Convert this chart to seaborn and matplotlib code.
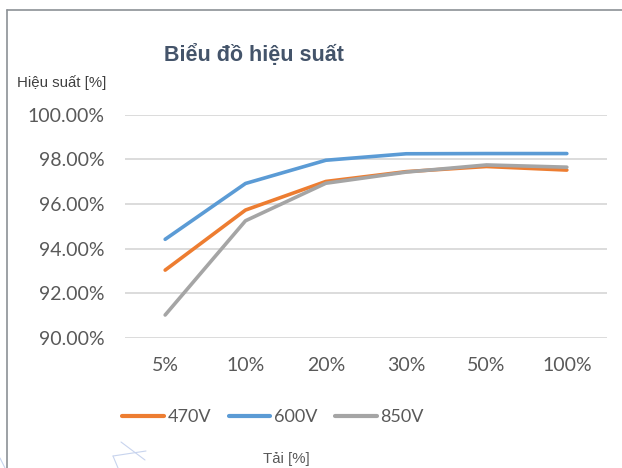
import matplotlib
matplotlib.use("Agg")
import matplotlib.pyplot as plt
import seaborn as sns
import pandas as pd
from matplotlib.lines import Line2D

categories = ["5%", "10%", "20%", "30%", "50%", "100%"]
eff_470 = [93.04, 95.73, 97.01, 97.45, 97.68, 97.52]
eff_600 = [94.42, 96.92, 97.96, 98.25, 98.26, 98.26]
eff_850 = [91.03, 95.25, 96.93, 97.43, 97.75, 97.65]
series = ["470V", "600V", "850V"]
yticks = [90, 92, 94, 96, 98, 100]

rows = []
for name, vals in zip(series, [eff_470, eff_600, eff_850]):
    for i, (c, v) in enumerate(zip(categories, vals)):
        rows.append({"pos": i, "load": c, "eff": v, "series": name})
df = pd.DataFrame(rows)

sns.set_style("white")
plt.rcParams["font.family"] = ["Lato", "DejaVu Sans"]

W, H = 622, 468
fig = plt.figure(figsize=(W / 100, H / 100), dpi=100)
ax = fig.add_axes([125 / W, 1 - 338 / H, (607 - 125) / W, (338 - 114.7) / H])

palette = {"470V": "#ED7D31", "600V": "#5B9BD5", "850V": "#A5A5A5"}
sns.lineplot(data=df, x="pos", y="eff", hue="series", palette=palette,
             linewidth=2.6, ax=ax, legend=False, sort=False)

ax.set_xlim(-0.5, len(categories) - 0.5)
ax.set_ylim(90, 100)
ax.set_xticks(range(len(categories)))
ax.set_xticklabels(categories)
ax.set_yticks(yticks)
ax.set_yticklabels([f"{v:.2f}%" for v in yticks])
ax.grid(axis="y", color="#D9D9D9", linewidth=1.3)
ax.grid(axis="x", visible=False)
ax.set_axisbelow(True)
for s in ax.spines.values():
    s.set_visible(False)
ax.tick_params(axis="both", length=0, labelsize=14, labelcolor="#595959")
ax.tick_params(axis="x", pad=14)
ax.tick_params(axis="y", pad=15)
ax.set_xlabel("")
ax.set_ylabel("")

# Title and axis titles
fig.text(254 / W, 1 - 55 / H, "Biểu đồ hiệu suất", ha="center", va="center",
         fontsize=15.5, fontweight="bold", color="#44546A",
         family=["Liberation Sans", "DejaVu Sans"])
fig.text(17 / W, 1 - 83 / H, "Hiệu suất [%]", ha="left", va="center",
         fontsize=10.8, color="#404040",
         family=["Liberation Sans Narrow", "Liberation Sans", "DejaVu Sans"])
fig.text(286 / W, 1 - 459 / H, "Tải [%]", ha="center", va="center",
         fontsize=10.8, color="#595959",
         family=["Liberation Sans Narrow", "Liberation Sans", "DejaVu Sans"])

handles = [Line2D([], [], color=palette[s], linewidth=3) for s in series]
fig.legend(handles, series, loc="center", bbox_to_anchor=(273 / W, 1 - 417 / H),
           ncol=3, frameon=False, fontsize=13, handlelength=2.3,
           handletextpad=0.2, columnspacing=1.0, labelcolor="#595959")

# chart frame (top and left borders)
fig.add_artist(Line2D([7 / W, 1], [1 - 10 / H, 1 - 10 / H], transform=fig.transFigure,
                      color="#8C9196", linewidth=1.2))
fig.add_artist(Line2D([7 / W, 7 / W], [0, 1 - 10 / H], transform=fig.transFigure,
                      color="#8C9196", linewidth=1.2))
# faint stray strokes near the bottom-left
for xs, ys in [([121, 145], [442, 460]), ([113, 146], [456, 451]), ([113, 118], [456, 468]), ([0, 5], [458, 468])]:
    fig.add_artist(Line2D([x / W for x in xs], [1 - y / H for y in ys], transform=fig.transFigure,
                          color="#C8D4EE", linewidth=0.8))

fig.savefig("out.png", dpi=100)
